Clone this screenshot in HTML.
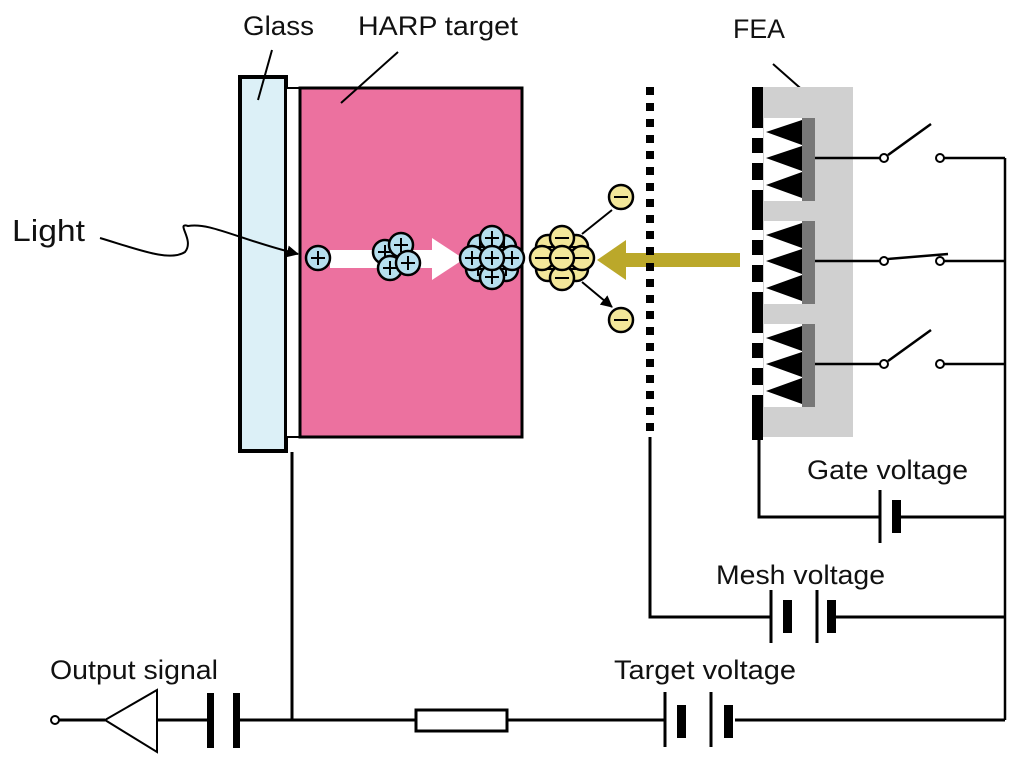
<!DOCTYPE html>
<html><head><style>body{margin:0;background:#fff}svg{display:block}text{font-family:"Liberation Sans",sans-serif;fill:#111}</style></head><body>
<svg width="1024" height="771" viewBox="0 0 1024 771">
<defs>
<marker id="ah" markerWidth="12" markerHeight="12" refX="11" refY="6" orient="auto" markerUnits="userSpaceOnUse"><path d="M0,0 L12,6 L0,12 z" fill="#000"/></marker>
<g id="pp"><circle r="12" fill="#b6dfee" stroke="#000" stroke-width="2.5"/><path d="M-7,0H7M0,-7V7" stroke="#000" stroke-width="2"/></g>
<g id="mm"><circle r="12" fill="#f3e79a" stroke="#000" stroke-width="2.5"/><path d="M-7,0H7" stroke="#000" stroke-width="2"/></g>
</defs>
<!-- labels -->
<text x="243" y="35" font-size="27" textLength="71" lengthAdjust="spacingAndGlyphs">Glass</text>
<text x="358" y="35" font-size="27" textLength="160" lengthAdjust="spacingAndGlyphs">HARP target</text>
<text x="733" y="38" font-size="27" textLength="52" lengthAdjust="spacingAndGlyphs">FEA</text>
<text x="12" y="241" font-size="31" textLength="73" lengthAdjust="spacingAndGlyphs">Light</text>
<text x="807" y="479" font-size="27" textLength="161" lengthAdjust="spacingAndGlyphs">Gate voltage</text>
<text x="716" y="584" font-size="27" textLength="169" lengthAdjust="spacingAndGlyphs">Mesh voltage</text>
<text x="614" y="679" font-size="27" textLength="182" lengthAdjust="spacingAndGlyphs">Target voltage</text>
<text x="50" y="679" font-size="27" textLength="168" lengthAdjust="spacingAndGlyphs">Output signal</text>
<!-- glass & target -->
<rect x="240" y="77" width="46" height="374" fill="#dcf0f7" stroke="#000" stroke-width="4"/>
<rect x="286" y="88" width="14" height="349" fill="#fff" stroke="#000" stroke-width="2"/>
<rect x="300" y="88" width="222" height="349" fill="#ec719f" stroke="#000" stroke-width="3"/>
<path d="M272,50 L258,100 M398,52 L341,103 M773,64 L807,94" stroke="#000" stroke-width="2"/>
<!-- light -->
<path d="M100,238 C140,250 170,262 185,252 C195,240 175,222 188,226 C210,222 240,240 298,254" fill="none" stroke="#000" stroke-width="2" marker-end="url(#ah)"/>
<!-- white arrow -->
<path d="M330,250 H432 V238 L464,259 L432,280 V268 H330 z" fill="#fff"/>
<use href="#pp" x="318" y="258"/>
<use href="#pp" x="385" y="252"/><use href="#pp" x="401" y="245"/><use href="#pp" x="390" y="268"/><use href="#pp" x="408" y="263"/>
<use href="#pp" x="480" y="247"/><use href="#pp" x="504" y="247"/><use href="#pp" x="492" y="238"/><use href="#pp" x="478" y="269"/><use href="#pp" x="506" y="269"/><use href="#pp" x="492" y="277"/><use href="#pp" x="472" y="258"/><use href="#pp" x="512" y="258"/><use href="#pp" x="492" y="258"/>
<use href="#mm" x="548" y="247"/><use href="#mm" x="576" y="247"/><use href="#mm" x="562" y="238"/><use href="#mm" x="548" y="269"/><use href="#mm" x="576" y="269"/><use href="#mm" x="562" y="278"/><use href="#mm" x="542" y="258"/><use href="#mm" x="582" y="258"/><use href="#mm" x="562" y="258"/>
<path d="M582,234 L612,210 M582,282 L612,307" stroke="#000" stroke-width="2" marker-end="url(#ah)"/>
<use href="#mm" x="621" y="197"/><use href="#mm" x="621" y="320"/>
<!-- yellow arrow -->
<path d="M740,253 H626 V240 L597,260 L626,280 V267 H740 z" fill="#bba82a"/>
<!-- mesh -->
<line x1="650" y1="87" x2="650" y2="437" stroke="#000" stroke-width="8" stroke-dasharray="8,8"/>
<!-- FEA -->
<rect x="763" y="87" width="90" height="350" fill="#d0d0d0"/>
<g fill="#000">
<rect x="752" y="87" width="11" height="41"/><rect x="752" y="138" width="11" height="15"/><rect x="752" y="163" width="11" height="17"/>
<rect x="752" y="190" width="11" height="40"/><rect x="752" y="240" width="11" height="15"/><rect x="752" y="265" width="11" height="17"/>
<rect x="752" y="292" width="11" height="41"/><rect x="752" y="343" width="11" height="15"/><rect x="752" y="368" width="11" height="17"/>
<rect x="752" y="395" width="11" height="45"/>
</g>
<g id="em">
<rect x="764" y="118" width="38" height="83" fill="#fff"/>
<rect x="802" y="118" width="13" height="83" fill="#777"/>
<path d="M766,132 L802,120 V145 z M766,158 L802,146 V171 z M766,185 L802,172 V198 z" fill="#000"/>
</g>
<use href="#em" y="103"/><use href="#em" y="206"/>
<!-- switches -->
<g stroke="#000" stroke-width="2.5" fill="none">
<path d="M815,158 H880 M888,155 L931,124 M944,158 H1005"/>
<path d="M815,261 H880 M888,259 L948,254 M944,261 H1005"/>
<path d="M815,364 H880 M888,361 L931,330 M944,364 H1005"/>
<path d="M1005,158 V720"/>
</g>
<g fill="#fff" stroke="#000" stroke-width="2">
<circle cx="884" cy="158" r="4"/><circle cx="940" cy="158" r="4"/>
<circle cx="884" cy="261" r="4"/><circle cx="940" cy="261" r="4"/>
<circle cx="884" cy="364" r="4"/><circle cx="940" cy="364" r="4"/>
</g>
<!-- circuit -->
<g stroke="#000" stroke-width="3" fill="none">
<path d="M759,437 V517 H880 M897,517 H1005"/>
<path d="M880,490 V543"/>
<path d="M650,437 V617 H771 M835,617 H1005"/>
<path d="M771,590 V643 M817,590 V643"/>
<path d="M292,452 V720"/>
<path d="M59,720 H105 M157,720 H212 M238,720 H415 M507,720 H665 M735,720 H1005"/>
<path d="M665,692 V747 M711,692 V747"/>
<path d="M105,720 L157,690 V752 z" fill="#fff" stroke-width="2"/>
</g>
<g fill="#000">
<rect x="892" y="500" width="9" height="33"/>
<rect x="783" y="600" width="9" height="33"/><rect x="827" y="600" width="9" height="33"/>
<rect x="677" y="705" width="9" height="33"/><rect x="724" y="705" width="9" height="33"/>
<rect x="207" y="693" width="7" height="55"/><rect x="233" y="693" width="7" height="55"/>
</g>
<rect x="416" y="710" width="91" height="21" fill="#fff" stroke="#000" stroke-width="3"/>
<circle cx="55" cy="720" r="4" fill="#fff" stroke="#000" stroke-width="2"/>
</svg>
</body></html>
